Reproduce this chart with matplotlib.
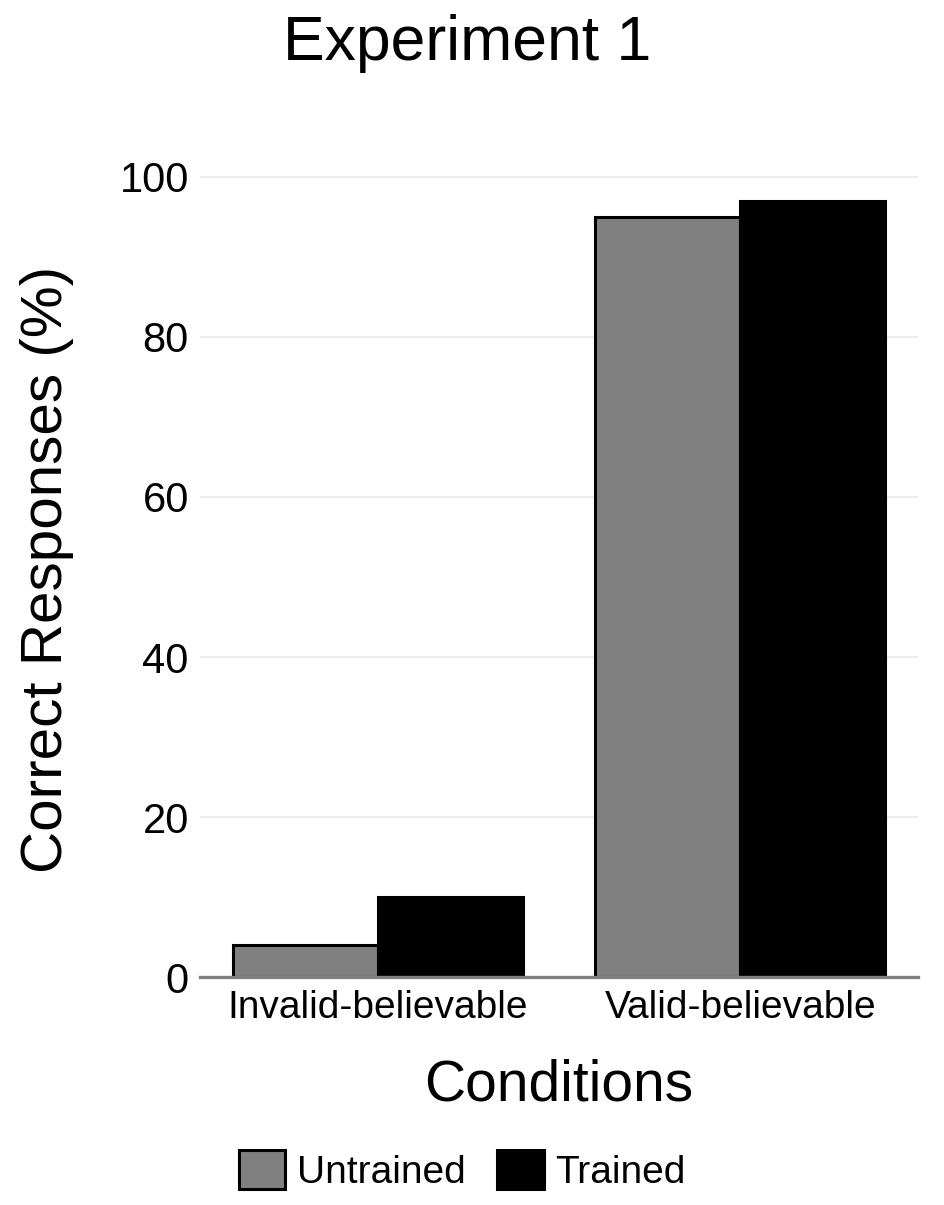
"""Experiment 1: correct responses by condition, untrained vs trained."""

import matplotlib

matplotlib.use("Agg")
import matplotlib.pyplot as plt
import numpy as np
from matplotlib.patches import Patch

plt.rcParams["font.family"] = ["Liberation Sans", "DejaVu Sans"]

CONDITIONS = ["Invalid-believable", "Valid-believable"]
GROUPS = ["Untrained", "Trained"]
UNTRAINED = [4, 95]
TRAINED = [10, 97]
COLORS = {"Untrained": "#808080", "Trained": "#000000"}


def main():
    fig = plt.figure(figsize=(9.45, 12.05), dpi=100)
    ax = fig.add_axes([0.2116, 0.1892, 0.7598, 0.6772])

    x = np.arange(len(CONDITIONS))
    w = 0.4
    for vals, name, off in ((UNTRAINED, "Untrained", -w / 2), (TRAINED, "Trained", w / 2)):
        ax.bar(x + off, vals, width=w, color=COLORS[name], edgecolor="black",
               linewidth=2.2, zorder=2)

    ax.set_xlim(-0.49, 1.49)
    ax.set_ylim(0, 102)
    ax.set_yticks([0, 20, 40, 60, 80, 100])
    ax.set_xticks(x)
    ax.set_xticklabels(CONDITIONS, fontsize=28)
    ax.tick_params(axis="y", labelsize=30, length=0, pad=8)
    ax.tick_params(axis="x", length=0, pad=9)
    ax.yaxis.grid(True, color="#ebebeb", linewidth=1.3, zorder=0)
    ax.set_axisbelow(True)
    for s in ("left", "right", "top"):
        ax.spines[s].set_visible(False)
    ax.spines["bottom"].set_color("#808080")
    ax.spines["bottom"].set_linewidth(2.4)
    ax.spines["bottom"].set_zorder(3)

    ax.set_ylabel("Correct Responses (%)", fontsize=42, labelpad=33)
    ax.set_xlabel("Conditions", fontsize=41, labelpad=24)

    fig.text(0.494, 0.964, "Experiment 1", fontsize=45, ha="center", va="center")

    handles = [Patch(facecolor=COLORS[g], edgecolor="black", linewidth=2.2, label=g)
               for g in GROUPS]
    fig.legend(handles=handles, loc="center", bbox_to_anchor=(0.489, 0.029), ncol=2,
               frameon=False, fontsize=28, handlelength=1.2, handleheight=1.2,
               handletextpad=0.3, columnspacing=0.8)

    fig.savefig("out.png", dpi=100)


if __name__ == "__main__":
    main()
